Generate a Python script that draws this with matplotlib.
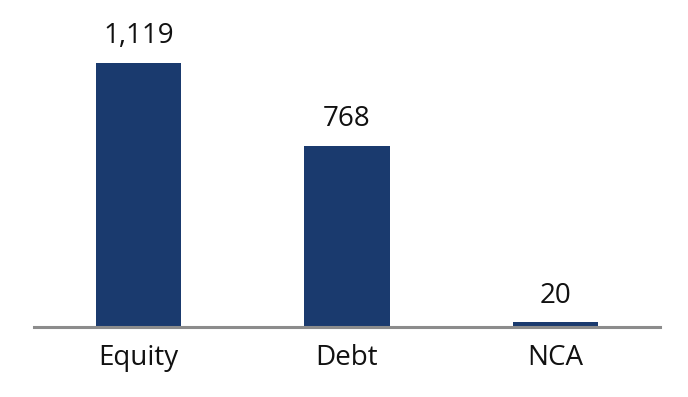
import matplotlib.pyplot as plt

categories = ['Equity', 'Debt', 'NCA']
values = [1119, 768, 20]
labels = ['1,119', '768', '20']

plt.rcParams['font.family'] = ['Open Sans', 'DejaVu Sans']

fig = plt.figure(figsize=(6.88, 3.97), dpi=100)
ax = fig.add_axes([34 / 688, 70 / 397, 626 / 688, 307 / 397])

x = range(len(categories))
bars = ax.bar(x, values, width=0.41, color='#1a3a6e', zorder=2)

for rect, lab in zip(bars, labels):
    ax.annotate(lab, (rect.get_x() + rect.get_width() / 2, rect.get_height()),
                xytext=(0, 9), textcoords='offset points',
                ha='center', va='bottom', fontsize=20, color='#111111')

ax.set_xlim(-0.5, 2.5)
ax.set_ylim(0, 1301)
ax.set_xticks(list(x))
ax.set_xticklabels(categories, fontsize=20, color='#111111')
ax.tick_params(axis='x', length=0, pad=12)
ax.set_yticks([])

for s in ['top', 'right', 'left']:
    ax.spines[s].set_visible(False)
ax.spines['bottom'].set_color('#8c8c8c')
ax.spines['bottom'].set_linewidth(2.2)
ax.spines['bottom'].set_zorder(3)

fig.savefig('out.png', dpi=100)
